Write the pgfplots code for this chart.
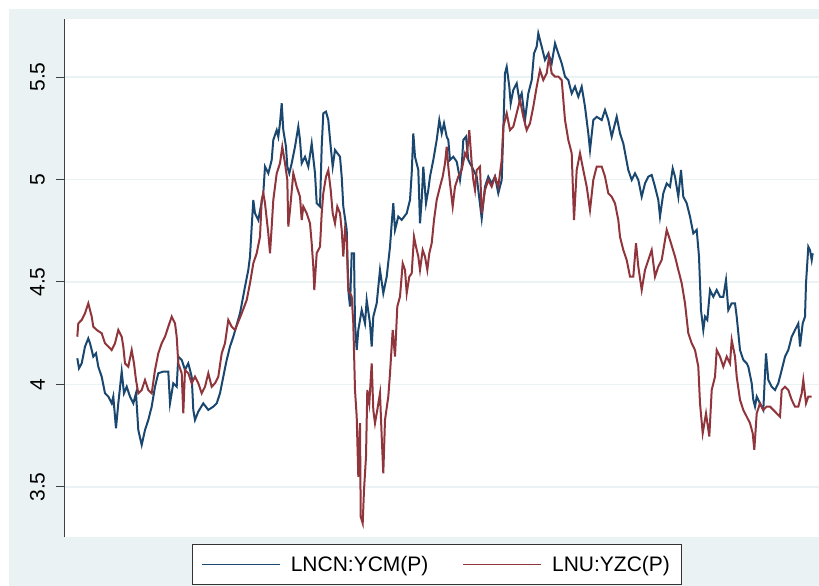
\documentclass[border=0pt]{standalone}
\usepackage{pgfplots}
\pgfplotsset{compat=1.18}
\usepackage{pgfplotstable}
\usepackage{fontspec}
\setmainfont{Liberation Sans}
\definecolor{bgc}{HTML}{EAF2F3}
\definecolor{gridc}{HTML}{EAF2F3}
\definecolor{sblue}{HTML}{1A476F}
\definecolor{sred}{HTML}{90353B}

\pgfplotstableread{
x y
77.3 4.128
79 4.079
81.7 4.103
85 4.185
88.3 4.225
90 4.201
93.3 4.136
96 4.152
98.3 4.087
101.7 4.038
105 3.957
108.3 3.941
111.7 3.908
113.3 3.941
116 3.786
118.3 3.908
121.7 4.063
124 3.957
126.7 3.989
130 3.941
133.3 3.908
136 3.957
138.3 3.778
141.7 3.705
145 3.778
148.3 3.827
151.7 3.892
155 3.989
158.3 4.055
163.3 4.063
168.3 4.063
170 3.908
173.3 4.006
176.7 3.989
178.3 4.136
181.7 4.120
185 4.071
188.3 4.103
191.7 4.038
193.3 3.876
195 3.827
198.3 3.868
203.3 3.908
208.3 3.876
213.3 3.892
216.7 3.908
220 3.957
223.3 4.038
226.7 4.120
230 4.185
233.3 4.233
240 4.347
245 4.477
248.3 4.559
250 4.624
251.7 4.770
253.3 4.900
255 4.835
258.3 4.802
263.3 4.933
265 5.063
268.3 5.030
271.7 5.095
273.3 5.193
276.7 5.241
278.3 5.209
280 5.274
281.7 5.372
283.3 5.241
286 5.160
287.3 5.063
289.3 5.030
291.7 5.079
295 5.160
298.3 5.258
300 5.193
301.7 5.079
305 5.111
308.3 5.063
311.7 5.176
315 5.030
316.7 4.884
320 4.868
321.7 5.160
323.3 5.323
326 5.331
328.3 5.290
330.7 5.160
332.7 5.063
335 5.144
340 5.111
341.7 5.014
343.3 4.868
346.7 4.754
348.3 4.461
350 4.380
351.7 4.640
354 4.640
355 4.298
356.7 4.168
358.3 4.266
361.7 4.363
365 4.298
366.7 4.412
370 4.298
371.7 4.185
373.3 4.331
376.7 4.396
380 4.559
383.3 4.445
386.7 4.526
390 4.672
391.7 4.786
393.3 4.884
395 4.754
398.3 4.819
401.7 4.803
406.7 4.835
410 4.900
411.7 5.030
413.3 5.225
415 5.111
418.3 5.046
420 4.786
421.7 4.900
423.3 5.063
426 4.884
428.3 4.949
430 5.014
433.3 5.095
436.7 5.193
439.3 5.290
441.7 5.225
444 5.274
446.7 5.209
448.3 5.193
450 5.095
453.3 5.111
456.7 5.087
458.3 5.046
460 4.998
461.7 5.063
463.3 5.193
466 5.209
468.3 5.095
471.7 5.063
476.7 5.014
481.7 4.810
485 4.965
488.3 5.014
491.7 4.981
495 5.014
498.3 4.933
501.7 4.998
503.3 5.241
505 5.518
506.7 5.550
509.3 5.453
510.7 5.371
513.3 5.437
516.7 5.469
519.3 5.388
521.7 5.420
525 5.290
528.3 5.420
531.7 5.485
534 5.615
536.7 5.648
538.3 5.713
541.7 5.648
545 5.583
548.3 5.615
551.7 5.567
555 5.664
558.3 5.615
561.7 5.567
565 5.502
568.3 5.485
571.7 5.420
575 5.453
578.3 5.404
581.7 5.453
585 5.355
588.3 5.225
590 5.144
593.3 5.290
596.7 5.306
601.7 5.290
605 5.339
608.3 5.290
611.7 5.209
616.7 5.306
620 5.225
623.3 5.176
628.3 5.046
631.7 4.998
635 5.030
638.3 4.998
641.7 4.916
645 4.981
648.3 5.014
651.7 5.022
655 4.965
658.3 4.900
660 4.819
663.3 4.933
666.7 4.981
670 4.965
672.7 5.054
675 5.014
678.3 4.916
681 5.046
683.3 4.916
686.7 4.884
690 4.819
693.3 4.737
696.7 4.754
699 4.624
701 4.363
703.3 4.266
705 4.331
707.3 4.315
710 4.461
713.3 4.428
716.7 4.461
720 4.428
723.3 4.428
726 4.510
728.3 4.363
731.7 4.396
735 4.396
736.7 4.331
740 4.168
743.3 4.120
746.7 4.103
748.3 4.087
751.7 4.006
753.3 3.925
755 3.892
756.7 3.941
760 3.908
763.3 3.876
766 4.152
768.3 4.022
771.7 3.989
775 3.973
778.3 4.006
781.7 4.071
785 4.136
788.3 4.168
791.7 4.233
795 4.266
798.3 4.298
800 4.185
802.7 4.298
805 4.331
806 4.494
808.3 4.672
810 4.656
811.7 4.607
812.7 4.640
}\bluedata

\pgfplotstableread{
x y
77.3 4.233
78.3 4.298
81.7 4.315
85 4.347
88.3 4.396
91.7 4.331
93.3 4.282
96.7 4.266
101.7 4.250
105 4.201
108.3 4.185
111.7 4.168
115 4.201
118.3 4.266
121.7 4.233
123.3 4.185
125 4.103
128.3 4.087
131.7 4.168
134 4.103
136 4.022
138.3 3.957
141.7 3.973
145 4.022
148.3 3.973
151.7 3.957
155 4.071
158.3 4.152
161.7 4.201
165 4.233
168.3 4.282
171.7 4.331
175 4.298
176.7 4.233
178.3 4.103
181.7 4.055
183.3 3.859
185 4.071
188.3 4.055
191.7 4.006
195 4.038
198.3 4.006
201.7 3.957
205 3.989
208.3 4.055
211.7 3.989
215 4.006
218.3 4.038
221.7 4.152
225 4.201
228.3 4.315
231.7 4.282
235 4.266
241.7 4.347
246.7 4.412
250 4.494
253.3 4.591
256.7 4.640
260 4.721
261.7 4.900
263.3 4.933
265 4.884
268.3 4.737
270 4.640
271.7 4.770
273.3 4.900
276.7 5.030
280 5.079
282.3 5.160
285 5.079
287.3 4.998
288.3 4.770
290 4.851
293.3 5.030
296.7 4.965
300 4.916
301.7 4.802
303.3 4.868
306.7 4.835
310 4.786
311.7 4.689
313.3 4.575
314.3 4.461
316.7 4.640
320 4.672
321.7 4.835
323.3 4.933
326 5.014
328.3 5.046
330.7 4.949
332.7 4.835
335 4.786
337.3 4.868
340 4.835
341.7 4.754
343.3 4.624
345 4.754
346.7 4.705
348.3 4.461
351.7 4.429
353.3 4.298
355 3.973
356.7 3.843
358.3 3.550
360 3.811
360.7 3.355
362.7 3.323
364 3.485
366 3.648
367.3 3.973
369.3 3.908
371.7 4.103
373.3 3.876
375 3.811
377.3 3.876
380 3.957
381.7 3.746
383.3 3.567
385 3.827
388.3 3.941
390 4.054
392.7 4.266
395 4.136
397.3 4.380
400 4.429
402.7 4.591
405 4.559
406.7 4.445
409.3 4.526
411.7 4.542
414 4.721
416 4.672
418.3 4.624
420 4.559
422.7 4.656
425 4.624
427.3 4.559
429.3 4.640
431.7 4.689
434 4.802
436.7 4.900
440 4.965
442.7 5.014
445 5.079
446.7 5.160
448.3 5.063
450 4.981
452.7 4.868
455 4.965
458.3 5.014
461.7 5.046
465 5.128
466.7 5.111
469.3 5.241
471.7 5.079
473.3 4.998
475 4.949
476.7 5.046
480 5.063
481.7 4.835
485 4.949
488.3 4.998
491.7 4.965
495 5.014
498.3 4.965
501.7 5.095
503.3 5.258
506.7 5.323
510 5.241
513.3 5.258
516.7 5.323
520 5.388
523.3 5.306
526.7 5.241
530 5.274
533.3 5.355
536.7 5.453
540 5.534
543.3 5.485
546.7 5.518
549 5.599
551.7 5.518
555 5.502
558.3 5.502
561.7 5.485
565 5.290
568.3 5.193
571.7 5.128
574 4.802
576.7 5.046
580 5.128
583.3 5.046
586.7 4.965
590 4.851
593.3 4.998
596.7 5.063
601.7 5.063
605 5.014
608.3 4.933
611.7 4.916
615 4.884
618.3 4.802
620 4.721
623.3 4.656
626.7 4.607
630 4.526
633.3 4.526
636 4.689
638.3 4.575
641.7 4.461
645 4.559
648.3 4.607
651.7 4.656
655 4.526
658.3 4.575
661.7 4.607
666.7 4.754
670 4.705
675 4.624
678.3 4.559
681.7 4.494
685 4.396
688.3 4.250
691.7 4.201
695 4.168
698.3 4.087
700 3.908
702.7 3.762
706 3.859
709.3 3.746
711.7 3.973
715 4.038
716.7 4.168
720 4.136
723.3 4.087
726.7 4.136
730 4.103
731.7 4.217
735 4.136
736.7 4.038
740 3.925
743.3 3.876
746.7 3.843
750 3.811
752.7 3.762
754.3 3.681
756.7 3.859
760 3.908
763.3 3.876
766.7 3.892
770 3.892
773.3 3.876
776.7 3.859
780 3.843
781.7 3.973
785 3.989
788.3 3.973
791.7 3.925
795 3.892
798.3 3.892
801.7 3.957
803.3 4.022
806 3.908
808.3 3.941
811.7 3.941
}\reddata

\begin{document}
\begin{tikzpicture}[x=1pt,y=1pt]
\useasboundingbox (-64,-49) rectangle (755,537);
\fill[white] (-64,-49) rectangle (755,537);
\fill[bgc] (-55,-49) rectangle (755,528);
\begin{axis}[
  at={(0,0)}, anchor=south west,
  scale only axis,
  width=755pt, height=518pt,
  xmin=64, xmax=819,
  ymin=3.256, ymax=5.783,
  axis x line=none,
  axis y line*=left,
  axis background/.style={fill=white},
  ytick={3.5,4,4.5,5,5.5},
  yticklabels={3.5,4,4.5,5,5.5},
  ymajorgrids,
  grid style={gridc, line width=1.5pt},
  y axis line style={draw=black!75, line width=1pt, -},
  ytick style={draw=black!75, line width=1pt},
  tick align=outside,
  major tick length=8pt,
  yticklabel style={xshift=-11pt, rotate=90, anchor=south, font=\fontsize{21}{25}\selectfont, inner sep=0pt},
  /pgf/number format/assume math mode=true,
  legend columns=2,
  legend style={at={(0.4934,-0.0531)}, anchor=center, draw=black!80, line width=0.8pt, fill=white,
    font=\fontsize{21}{25}\selectfont, inner xsep=9pt, inner ysep=10pt,
    nodes={inner sep=2pt},
    /tikz/every even column/.append style={column sep=32pt}},
  legend image code/.code={\draw[#1, line width=1.4pt] (0pt,0pt) -- (78pt,0pt); \path (86pt,0pt);},
]
\addplot[sblue, line width=2pt] table[x=x,y=y] {\bluedata};
\addlegendentry{LNCN:YCM(P)}
\addplot[sred, line width=2pt] table[x=x,y=y] {\reddata};
\addlegendentry{LNU:YZC(P)}
\end{axis}
\end{tikzpicture}
\end{document}
